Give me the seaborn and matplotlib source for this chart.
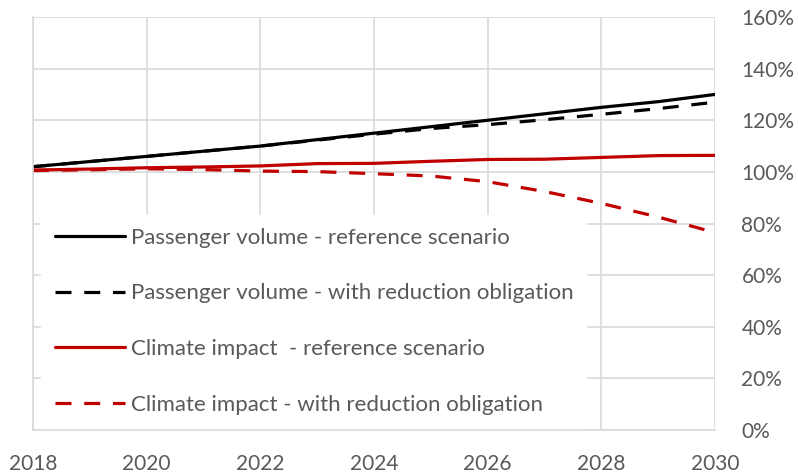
import matplotlib
matplotlib.use("Agg")
import matplotlib.pyplot as plt
import seaborn as sns
import pandas as pd
from matplotlib.ticker import FuncFormatter

years = list(range(2018, 2031))
pass_ref = [102, 104, 106, 108, 110, 112.5, 115, 117.5, 120, 122.5, 125, 127.2, 130]
pass_red = [102, 104, 106, 108, 110, 112.3, 114.6, 116.8, 118.3, 120.2, 122.3, 124.5, 127]
clim_ref = [100.7, 101.1, 101.6, 101.9, 102.3, 103.2, 103.3, 104.1, 104.8, 104.9, 105.6, 106.3, 106.4]
clim_red = [100.5, 100.8, 101.2, 100.9, 100.3, 100.1, 99.3, 98.4, 96.2, 92.4, 87.8, 82.5, 76.5]

labels = [
    "Passenger volume - reference scenario",
    "Passenger volume - with reduction obligation",
    "Climate impact  - reference scenario",
    "Climate impact - with reduction obligation",
]
series = [pass_ref, pass_red, clim_ref, clim_red]
colors = ["#000000", "#000000", "#C00000", "#C00000"]
styles = ["-", (0, (5, 4)), "-", (0, (5, 4))]

sns.set_theme(style="white")
plt.rcParams["font.family"] = ["Lato", "DejaVu Sans"]

fig = plt.figure(figsize=(7.98, 4.74), dpi=100)
ax = fig.add_axes([33 / 798, 44 / 474, 682 / 798, 413 / 474])

for lab, vals, c, ls in zip(labels, series, colors, styles):
    df = pd.DataFrame({"year": years, "value": [v / 100 for v in vals]})
    sns.lineplot(data=df, x="year", y="value", ax=ax, color=c, linestyle=ls,
                 linewidth=2.3, label=lab)

ax.set_xlim(2018, 2030)
ax.set_ylim(0, 1.6)
ax.set_xticks(list(range(2018, 2031, 2)))
ax.set_yticks([i * 0.2 for i in range(9)])
ax.yaxis.set_major_formatter(FuncFormatter(lambda v, p: f"{v*100:.0f}%"))
ax.yaxis.tick_right()
ax.set_xlabel("")
ax.set_ylabel("")
ax.grid(True, color="#d9d9d9", linewidth=1.2)
ax.set_axisbelow(True)
for s in ["top", "right"]:
    ax.spines[s].set_visible(False)
for s in ["left", "bottom"]:
    ax.spines[s].set_color("#d9d9d9")
    ax.spines[s].set_linewidth(1.2)
ax.tick_params(axis="y", length=0, pad=19, labelsize=15, labelcolor="#595959")
ax.tick_params(axis="x", length=0, pad=17, labelsize=15, labelcolor="#595959")

leg = ax.legend(loc="lower left", bbox_to_anchor=(0.012, 0.005), frameon=True,
                fontsize=16, handlelength=3.15, handletextpad=0.27,
                labelspacing=1.6, borderpad=0.6, borderaxespad=0)
leg.get_frame().set_facecolor("white")
leg.get_frame().set_edgecolor("white")
leg.get_frame().set_alpha(1)
leg.get_frame().set_boxstyle("square", pad=0)
for t in leg.get_texts():
    t.set_color("#595959")

fig.savefig("out.png", dpi=100)
